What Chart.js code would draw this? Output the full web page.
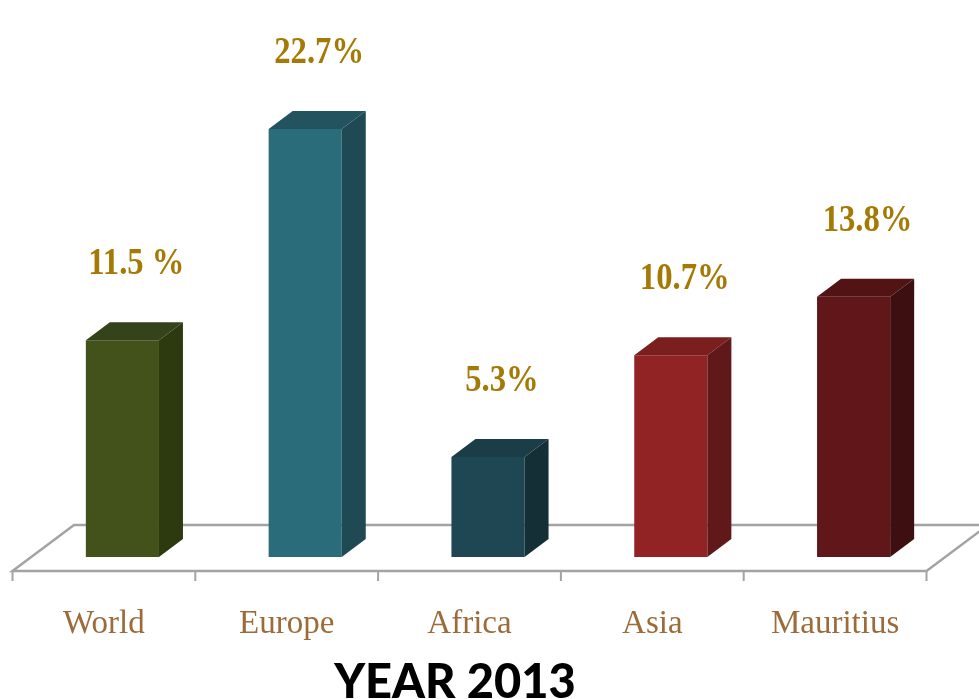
<!DOCTYPE html>
<html>
<head>
<meta charset="utf-8">
<script src="https://cdn.jsdelivr.net/npm/chart.js@4"></script>
<style>
  html, body { margin: 0; padding: 0; background: #ffffff; }
  #wrap { width: 979px; height: 699px; }
</style>
</head>
<body>
<div id="wrap"><canvas id="c" width="979" height="699"></canvas></div>
<script>
const categories = ['World', 'Europe', 'Africa', 'Asia', 'Mauritius'];
const values = [11.5, 22.7, 5.3, 10.7, 13.8];
const valueLabels = ['11.5 %', '22.7%', '5.3%', '10.7%', '13.8%'];
const chartTitle = 'YEAR 2013';

const frontColors = ['#43521a', '#2b6c7a', '#1e4653', '#922324', '#611719'];
const topColors   = ['#35431a', '#22535e', '#1a3d47', '#7a1e1e', '#521314'];
const sideColors  = ['#2d3a10', '#1f4a53', '#142f35', '#611818', '#3e0f10'];

const DEPTH_X = 24, DEPTH_Y = 18;        // bar depth (oblique)
const FLOOR_FRONT = { dx: -18.5, dy: 14 };
const FLOOR_BACK  = { dx: 43, dy: -32 };

const threeD = {
  id: 'threeD',
  beforeDatasetsDraw(chart) {
    const ctx = chart.ctx, xs = chart.scales.x, ys = chart.scales.y;
    const base = ys.getPixelForValue(0);
    const step = xs.getPixelForValue(1) - xs.getPixelForValue(0);
    const L = xs.getPixelForValue(0) - step / 2;
    const R = xs.getPixelForValue(categories.length - 1) + step / 2;
    ctx.save();
    ctx.strokeStyle = '#a3a3a3';
    ctx.lineWidth = 2.5;
    ctx.lineJoin = 'miter';
    ctx.beginPath();
    ctx.moveTo(L + FLOOR_FRONT.dx, base + FLOOR_FRONT.dy);
    ctx.lineTo(L + FLOOR_BACK.dx, base + FLOOR_BACK.dy);
    ctx.lineTo(R + FLOOR_BACK.dx, base + FLOOR_BACK.dy);
    ctx.lineTo(R + FLOOR_FRONT.dx, base + FLOOR_FRONT.dy);
    ctx.closePath();
    ctx.stroke();
    // ticks
    ctx.lineWidth = 2;
    for (let i = 0; i <= categories.length; i++) {
      const tx = L + i * step + FLOOR_FRONT.dx;
      ctx.beginPath();
      ctx.moveTo(tx, base + FLOOR_FRONT.dy);
      ctx.lineTo(tx, base + FLOOR_FRONT.dy + 10);
      ctx.stroke();
    }
    ctx.restore();
  },
  afterDatasetsDraw(chart) {
    const ctx = chart.ctx, xs = chart.scales.x, ys = chart.scales.y;
    const meta = chart.getDatasetMeta(0);
    ctx.save();
    meta.data.forEach((bar, i) => {
      const p = bar.getProps(['x', 'y', 'base', 'width'], true);
      const l = p.x - p.width / 2, r = p.x + p.width / 2;
      // top face
      ctx.fillStyle = topColors[i];
      ctx.beginPath();
      ctx.moveTo(l, p.y);
      ctx.lineTo(l + DEPTH_X, p.y - DEPTH_Y);
      ctx.lineTo(r + DEPTH_X, p.y - DEPTH_Y);
      ctx.lineTo(r, p.y);
      ctx.closePath();
      ctx.fill();
      // side face
      ctx.fillStyle = sideColors[i];
      ctx.beginPath();
      ctx.moveTo(r, p.y);
      ctx.lineTo(r + DEPTH_X, p.y - DEPTH_Y);
      ctx.lineTo(r + DEPTH_X, p.base - DEPTH_Y);
      ctx.lineTo(r, p.base);
      ctx.closePath();
      ctx.fill();
      // value label (condensed serif)
      ctx.save();
      ctx.translate(p.x + 14, p.y - 76);
      ctx.scale(0.86, 1);
      ctx.fillStyle = '#a47a05';
      ctx.font = 'bold 38px "Liberation Serif"';
      ctx.textAlign = 'center';
      ctx.textBaseline = 'middle';
      ctx.fillText(valueLabels[i], 0, 0);
      ctx.restore();
    });
    // category labels
    const base = ys.getPixelForValue(0);
    ctx.fillStyle = '#9c6b3a';
    ctx.font = '33px "Liberation Serif"';
    ctx.textAlign = 'center';
    ctx.textBaseline = 'middle';
    categories.forEach((c, i) => {
      ctx.fillText(c, xs.getPixelForValue(i) + FLOOR_FRONT.dx, base + 67);
    });
    // title
    ctx.fillStyle = '#000000';
    ctx.font = '900 47px Lato';
    ctx.textBaseline = 'alphabetic';
    ctx.fillText(chartTitle, 455, 698);
    ctx.restore();
  }
};

new Chart(document.getElementById('c'), {
  type: 'bar',
  data: {
    labels: categories,
    datasets: [{
      data: values,
      backgroundColor: frontColors,
      borderWidth: 0,
      categoryPercentage: 1,
      barPercentage: 0.4
    }]
  },
  options: {
    responsive: false,
    animation: false,
    devicePixelRatio: 1,
    layout: { padding: { left: 31, right: 34, top: 29, bottom: 142 } },
    plugins: { legend: { display: false }, tooltip: { enabled: false }, title: { display: false } },
    scales: {
      x: { display: false, offset: true },
      y: { display: false, min: 0, max: 28 }
    }
  },
  plugins: [threeD]
});
</script>
</body>
</html>
